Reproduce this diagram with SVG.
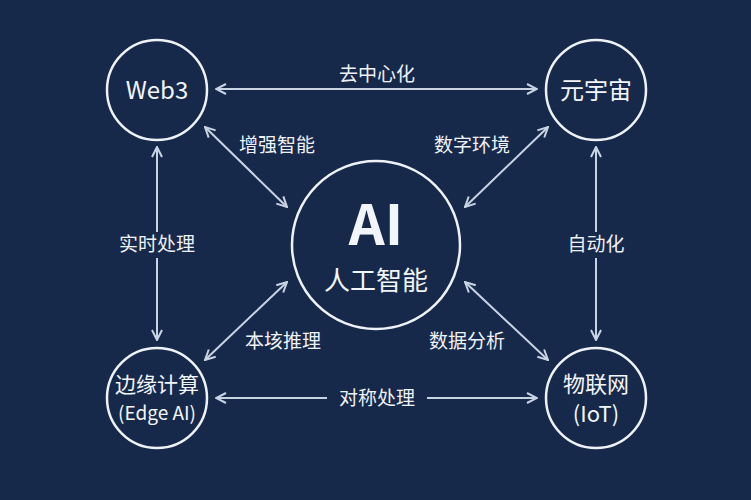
<svg xmlns="http://www.w3.org/2000/svg" width="751" height="500" viewBox="0 0 751 500">
<defs>
<marker id="ah" viewBox="0 0 12 12" refX="11" refY="6" markerWidth="12" markerHeight="12" markerUnits="userSpaceOnUse" orient="auto-start-reverse">
<path d="M1,1 L11,6 L1,11" fill="none" stroke="#c9d4e3" stroke-width="2"/>
</marker>
<style>
.n{fill:none;stroke:#eef2f7;stroke-width:2.5}
.c{stroke:#c9d4e3;stroke-width:2;marker-start:url(#ah);marker-end:url(#ah)}
.t{font-family:"Noto Sans CJK SC","Noto Sans",sans-serif;fill:#f2f5f9;text-anchor:middle}
.l{font-family:"Noto Sans CJK SC","Noto Sans",sans-serif;fill:#eef2f7;font-size:19px;text-anchor:middle}
</style>
</defs>
<rect width="751" height="500" fill="#17294a"/>
<g id="connectors">
<line class="c" x1="216" y1="89" x2="537" y2="89"/>
<line class="c" x1="216" y1="398" x2="537" y2="398"/>
<line class="c" x1="157" y1="147" x2="157" y2="340"/>
<line class="c" x1="596" y1="147" x2="596" y2="340"/>
<line class="c" x1="205" y1="127" x2="287" y2="207"/>
<line class="c" x1="548" y1="127" x2="465" y2="207"/>
<line class="c" x1="205" y1="360" x2="287" y2="282"/>
<line class="c" x1="548" y1="360" x2="465" y2="282"/>
<rect x="110" y="232" width="94" height="26" fill="#17294a"/>
<rect x="558" y="232" width="76" height="26" fill="#17294a"/>
<rect x="327" y="386" width="100" height="26" fill="#17294a"/>
<text class="l" x="377" y="81">去中心化</text>
<text class="l" x="377" y="405">对称处理</text>
<text class="l" x="277" y="152">增强智能</text>
<text class="l" x="472" y="152">数字环境</text>
<text class="l" x="157" y="251">实时处理</text>
<text class="l" x="596" y="251">自动化</text>
<text class="l" x="283" y="348">本垓推理</text>
<text class="l" x="467" y="348">数据分析</text>
</g>
<g id="web3"><circle class="n" cx="157" cy="90" r="50"/><text class="t" x="157" y="99" font-size="24">Web3</text></g>
<g id="metaverse"><circle class="n" cx="596" cy="90" r="50"/><text class="t" x="596" y="99" font-size="24">元宇宙</text></g>
<g id="ai"><circle class="n" cx="376" cy="245" r="84"/><text class="t" x="376" y="245" font-size="56" font-weight="bold">AI</text><text class="t" x="376" y="290" font-size="26">人工智能</text></g>
<g id="edge"><circle class="n" cx="157" cy="398" r="50"/><text class="t" x="157" y="392" font-size="21">边缘计算</text><text class="t" x="157" y="420" font-size="19">(Edge AI)</text></g>
<g id="iot"><circle class="n" cx="596" cy="398" r="50"/><text class="t" x="596" y="392" font-size="22">物联网</text><text class="t" x="596" y="422" font-size="22">(IoT)</text></g>
</svg>
